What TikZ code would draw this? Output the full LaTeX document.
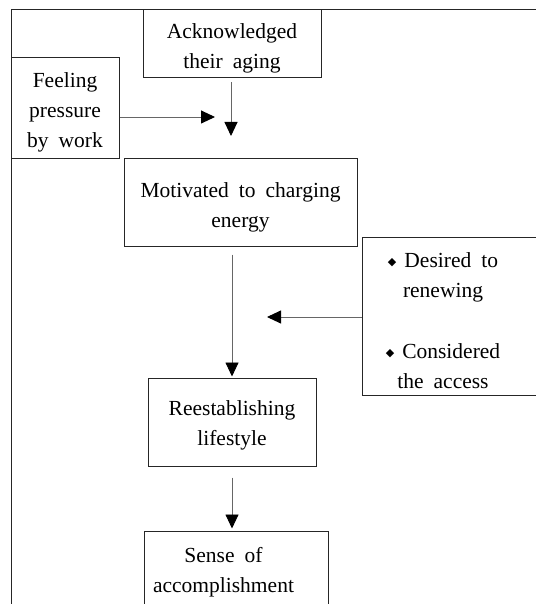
\documentclass[tikz,border=0pt]{standalone}
\usepackage{fontspec}
\setmainfont{Liberation Serif}
\newfontfamily\djv{DejaVu Sans}
\usetikzlibrary{arrows.meta}
\newcommand{\bul}{\raisebox{1.5pt}{\djv\fontsize{11}{11}\selectfont ◆}\hspace{8pt}}
\newcommand{\boxfont}{\fontsize{21.5}{30}\selectfont\spaceskip=10pt plus 2pt\relax}
\newcommand{\bt}[2][-3.5pt]{\raisebox{#1}[\height][\depth]{\begin{tabular}{@{}c@{}}#2\end{tabular}}}
\begin{document}
\begin{tikzpicture}[x=1pt,y=-1pt,
  box/.style={draw=black!85, line width=1pt, align=center, inner sep=0pt,
    font=\boxfont},
  arr/.style={draw=black!60, line width=0.9pt, -{Triangle[length=14pt,width=13pt,color=black]}}]
\useasboundingbox (0,0) rectangle (535,604);
\draw[line width=1pt, black!85] (545,10) -- (11,10) -- (11,615);
\node[box, minimum width=178pt, minimum height=68pt] (ack) at (232,44) {\bt{Acknowledged\\their aging}};
\node[box, minimum width=108pt, minimum height=101pt] (feel) at (65,108.5) {\bt{Feeling\\pressure\\by work}};
\node[box, minimum width=233pt, minimum height=87pt] (mot) at (240.5,202.5) {\bt{Motivated to charging\\energy}};
\node[box, minimum width=178pt, minimum height=158pt] (des) at (451,316)
  {\bt[-5.5pt]{\bul Desired to\\renewing\\[31pt]\bul Considered\\the access}\hspace{16pt}};
\node[box, minimum width=168pt, minimum height=88pt] (re) at (232,422) {\bt[-2pt]{Reestablishing\\lifestyle}};
\node[box, minimum width=184pt, minimum height=84pt] (sen) at (236,573)
  {\bt[2pt]{Sense of\\accomplishment}\hspace{25pt}};
\coordinate (j1) at (215,117);
\coordinate (j2) at (231,136);
\coordinate (j3) at (267,317);
\draw[arr] (feel.east |- j1) -- (j1);
\draw[arr] ([yshift=-4pt]j2 |- ack.south) -- (j2);
\draw[arr] ([yshift=-8pt]re.north |- mot.south) -- ([yshift=1pt]re.north);
\draw[arr] (des.west |- j3) -- (j3);
\draw[arr] ([yshift=-11pt]re.south) -- ([yshift=2pt]re.south |- sen.north);
\end{tikzpicture}
\end{document}
